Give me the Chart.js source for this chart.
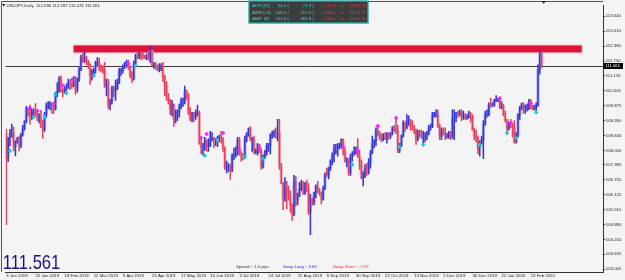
<!DOCTYPE html>
<html><head><meta charset="utf-8">
<script src="https://cdn.jsdelivr.net/npm/chart.js@4.4.1/dist/chart.umd.min.js"></script>
<style>html,body{margin:0;padding:0;background:#f4f4f4;overflow:hidden}canvas{display:block}</style>
</head><body>
<canvas id="c" width="625" height="280"></canvas>
<script>
// ---- data (USDJPY daily, 3 Jan 2019 .. 21 Feb 2020) ----
const dateLabels = ["3 Jan 2019","25 Jan 2019","18 Feb 2019","12 Mar 2019","3 Apr 2019","25 Apr 2019","17 May 2019","10 Jun 2019","3 Jul 2019","24 Jul 2019","15 Aug 2019","6 Sep 2019","30 Sep 2019","22 Oct 2019","13 Nov 2019","5 Dec 2019","30 Dec 2019","22 Jan 2020","13 Feb 2020"];
const priceTicks = [113.640,113.010,112.380,111.750,111.135,110.505,109.875,109.260,108.630,108.000,107.385,106.755,106.125,105.510,104.880,104.250,103.635,103.005];

const opens = [
108.70,107.68,108.50,108.70,108.73,108.15,108.38,108.48,108.18,108.65,
108.92,109.23,109.77,109.67,109.38,109.60,109.64,109.55,109.36,109.38,
109.00,108.87,109.50,109.90,109.95,109.97,109.80,109.72,110.38,110.48,
111.00,110.50,110.47,110.60,110.65,110.85,110.70,110.68,111.05,110.55,
111.00,111.40,111.90,111.75,111.90,111.75,111.60,111.15,111.20,111.40,
111.70,111.70,111.50,111.45,111.40,110.70,110.85,109.90,110.05,110.60,
110.50,110.60,110.85,111.35,111.35,111.50,111.65,111.72,111.48,111.15,
111.00,111.65,112.00,111.97,112.05,112.00,111.92,111.90,111.95,111.85,
112.20,111.60,111.60,111.55,111.40,111.40,111.50,111.10,110.70,110.25,
110.10,109.75,109.95,109.30,109.60,109.60,109.85,110.05,110.05,110.50,
110.35,109.60,109.30,109.50,109.40,109.60,109.60,108.30,108.10,108.15,
108.40,108.15,108.20,108.45,108.50,108.40,108.40,108.55,108.55,108.45,
108.10,107.30,107.30,107.30,107.15,107.80,107.80,107.85,108.45,107.90,
107.80,107.75,108.50,108.70,108.90,108.50,108.50,107.90,107.90,108.25,
108.00,107.30,107.70,107.90,108.20,108.20,108.65,108.70,108.80,108.60,
108.75,107.35,106.60,105.95,106.50,106.30,106.10,105.70,105.30,106.70,
105.90,106.10,106.40,106.60,106.20,106.60,106.40,105.40,105.90,105.80,
106.20,106.50,106.30,106.25,105.95,106.40,106.95,106.90,107.25,107.55,
107.80,108.10,108.10,108.10,108.15,108.45,107.95,107.55,107.55,107.05,
107.75,107.80,107.90,108.00,107.75,107.50,106.85,106.90,107.25,107.10,
107.50,107.90,108.30,108.40,108.85,108.75,108.65,108.45,108.60,108.50,
108.70,108.60,108.70,108.95,108.90,108.80,108.00,108.20,108.60,109.15,
108.95,109.25,109.25,109.05,109.00,108.85,108.45,108.80,108.65,108.60,
108.60,108.60,108.70,108.95,109.00,109.50,109.50,109.50,109.05,108.60,
108.85,108.75,108.60,108.60,108.75,108.55,109.35,109.35,109.55,109.50,
109.60,109.40,109.45,109.35,109.40,109.55,109.45,108.85,108.60,108.55,
108.10,108.35,108.45,109.10,109.50,109.50,109.95,109.90,109.90,110.15,
110.15,110.15,109.85,109.85,109.50,109.30,108.90,109.10,109.05,108.95,
108.35,108.65,109.50,109.80,109.95,109.75,109.75,109.75,110.05,109.85,
109.75,109.85,109.90,111.40,112.096];
const highs = [
108.88,108.55,108.88,109.10,108.98,108.40,108.55,108.60,108.72,109.05,
109.25,109.85,109.80,109.90,109.75,109.75,109.97,109.70,109.55,109.68,
109.25,109.60,110.00,110.05,110.05,110.00,109.90,110.45,110.85,111.10,
111.13,110.60,110.68,110.80,111.00,110.95,110.85,111.10,111.10,111.05,
111.50,112.00,112.08,112.13,111.95,111.80,111.65,111.40,111.45,111.75,
111.90,111.88,111.60,111.55,111.70,111.00,111.00,110.15,110.70,110.70,
110.95,111.00,111.45,111.45,111.60,111.70,111.80,111.80,111.55,111.30,
111.75,112.05,112.10,112.15,112.15,112.15,112.00,112.05,112.15,112.40,
112.25,111.70,111.70,111.60,111.65,111.65,111.70,111.15,110.90,110.40,
110.15,110.10,109.95,109.70,109.70,109.95,110.20,110.20,110.70,110.55,
110.40,109.80,109.60,109.60,109.70,109.90,109.65,108.45,108.30,108.55,
108.45,108.50,108.80,108.75,108.55,108.50,108.60,108.65,108.80,108.55,
108.15,107.55,107.45,107.40,107.85,108.10,108.15,108.55,108.55,107.95,
107.85,108.60,108.75,108.95,109.00,108.55,108.60,108.05,108.30,108.25,
108.05,107.80,108.00,108.30,108.30,108.70,108.80,108.85,108.95,109.30,
109.30,107.45,106.65,106.85,106.70,106.50,106.30,105.75,106.95,106.90,
106.20,106.65,106.75,106.70,106.65,106.75,106.60,106.15,106.00,106.25,
106.55,106.70,106.40,106.25,106.50,107.05,107.25,107.30,107.60,107.90,
108.25,108.25,108.30,108.30,108.48,108.48,108.10,107.70,107.65,107.85,
107.95,108.15,108.15,108.50,108.00,107.60,107.10,107.40,107.45,107.65,
108.00,108.60,108.45,108.95,108.95,108.80,108.70,108.70,108.75,108.75,
108.75,108.75,109.00,109.05,109.30,109.05,108.30,108.65,109.25,109.20,
109.50,109.45,109.30,109.25,109.05,108.90,108.85,108.85,108.85,108.80,
108.75,108.80,109.05,109.10,109.60,109.60,109.70,109.70,109.10,108.95,
108.95,108.95,108.70,108.80,108.80,109.70,109.70,109.60,109.65,109.70,
109.70,109.65,109.55,109.50,109.65,109.60,109.50,108.95,108.85,108.60,
108.40,108.60,109.25,109.65,109.70,110.00,110.20,110.00,110.15,110.30,
110.20,110.20,110.05,109.95,109.65,109.30,109.20,109.30,109.15,109.25,
108.75,109.55,109.85,110.00,110.00,109.90,109.95,110.15,110.15,109.90,
109.90,110.00,111.60,112.20,112.187];
const lows = [
104.87,107.52,108.20,108.55,107.98,107.77,108.30,107.98,108.10,108.60,
108.85,109.15,109.45,109.10,109.30,109.40,109.45,109.25,109.15,108.95,
108.50,108.80,109.40,109.75,109.70,109.55,109.55,109.70,110.25,110.45,
110.45,110.25,110.40,110.50,110.60,110.55,110.60,110.68,110.35,110.45,
110.90,111.35,111.70,111.70,111.60,111.45,110.77,110.95,111.10,111.25,
111.55,111.35,111.30,111.25,110.65,110.30,109.75,109.70,109.95,110.25,
110.10,110.55,110.80,111.15,111.25,111.45,111.50,111.40,111.05,110.85,
110.95,111.60,111.85,111.85,111.80,111.85,111.85,111.80,111.80,111.70,
111.55,111.45,111.40,111.35,111.30,111.35,110.90,110.30,110.10,109.95,
109.50,109.45,109.02,109.15,109.25,109.40,109.75,109.85,109.95,110.15,
109.50,109.25,109.20,109.20,109.30,109.45,108.25,107.85,107.80,108.00,
107.95,107.95,108.15,108.40,108.10,108.20,108.15,108.35,108.30,107.95,
107.20,107.05,107.10,106.78,107.10,107.60,107.70,107.80,107.80,107.55,
107.60,107.65,108.35,108.60,108.40,107.95,107.85,107.85,107.80,107.90,
107.20,107.25,107.65,107.80,107.95,107.85,108.50,108.55,108.50,108.40,
107.20,106.60,105.50,105.85,105.55,105.90,105.40,105.05,105.25,105.65,
105.70,106.05,106.30,106.15,106.15,106.25,105.30,104.45,105.70,105.70,
106.00,106.20,106.10,105.75,105.90,106.35,106.90,106.80,107.15,107.40,
107.50,107.85,107.75,108.05,108.10,107.80,107.50,107.30,106.95,106.95,
107.55,107.80,107.85,107.70,107.20,106.80,106.50,106.85,106.95,107.00,
107.25,107.85,108.10,108.20,108.60,108.45,108.35,108.40,108.45,108.30,
108.45,108.50,108.65,108.80,108.70,107.90,107.90,108.15,108.55,108.80,
108.90,109.05,108.85,108.85,108.70,108.25,108.40,108.55,108.50,108.25,
108.35,108.45,108.65,108.85,108.95,109.40,109.40,108.95,108.45,108.45,
108.65,108.45,108.50,108.50,108.45,108.50,108.45,109.20,109.40,109.45,
109.25,109.30,109.30,109.30,109.35,109.20,108.85,108.45,108.35,107.85,
107.75,108.25,107.65,109.05,109.40,109.45,109.80,109.85,109.85,110.05,
110.05,109.75,109.75,109.45,109.20,108.75,108.85,108.95,108.55,108.30,
108.30,108.55,109.30,109.70,109.55,109.55,109.65,109.70,109.75,109.70,
109.70,109.60,109.85,111.20,111.474];
const closes = [
107.68,108.50,108.70,108.73,108.15,108.38,108.48,108.18,108.65,108.92,
109.23,109.77,109.67,109.38,109.60,109.64,109.55,109.36,109.38,109.00,
108.87,109.50,109.90,109.95,109.97,109.80,109.72,110.38,110.48,111.00,
110.50,110.47,110.60,110.65,110.85,110.70,110.68,111.05,110.55,111.00,
111.40,111.90,111.75,111.90,111.75,111.60,111.15,111.20,111.40,111.70,
111.70,111.50,111.45,111.40,110.70,110.85,109.90,110.05,110.60,110.50,
110.60,110.85,111.35,111.35,111.50,111.65,111.72,111.48,111.15,111.00,
111.65,112.00,111.97,112.05,112.00,111.92,111.90,111.95,111.85,112.20,
111.60,111.60,111.55,111.40,111.40,111.50,111.10,110.70,110.25,110.10,
109.75,109.95,109.30,109.60,109.60,109.85,110.05,110.05,110.50,110.35,
109.60,109.30,109.50,109.40,109.60,109.60,108.30,108.10,108.15,108.40,
108.15,108.20,108.45,108.50,108.40,108.40,108.55,108.55,108.45,108.10,
107.30,107.30,107.30,107.15,107.80,107.80,107.85,108.45,107.90,107.80,
107.75,108.50,108.70,108.90,108.50,108.50,107.90,107.90,108.25,108.00,
107.30,107.70,107.90,108.20,108.20,108.65,108.70,108.80,108.60,108.75,
107.35,106.60,105.95,106.50,106.30,106.10,105.70,105.30,106.70,105.90,
106.10,106.40,106.60,106.20,106.60,106.40,105.40,105.90,105.80,106.20,
106.50,106.30,106.25,105.95,106.40,106.95,106.90,107.25,107.55,107.80,
108.10,108.10,108.10,108.15,108.45,107.95,107.55,107.55,107.05,107.75,
107.80,107.90,108.00,107.75,107.50,106.85,106.90,107.25,107.10,107.50,
107.90,108.30,108.40,108.85,108.75,108.65,108.45,108.60,108.50,108.70,
108.60,108.70,108.95,108.90,108.80,108.00,108.20,108.60,109.15,108.95,
109.25,109.25,109.05,109.00,108.85,108.45,108.80,108.65,108.60,108.60,
108.60,108.70,108.95,109.00,109.50,109.50,109.50,109.05,108.60,108.85,
108.75,108.60,108.60,108.75,108.55,109.35,109.35,109.55,109.50,109.60,
109.40,109.45,109.35,109.40,109.55,109.45,108.85,108.60,108.55,108.10,
108.35,108.45,109.10,109.50,109.50,109.95,109.90,109.90,110.15,110.15,
110.15,109.85,109.85,109.50,109.30,108.90,109.10,109.05,108.95,108.35,
108.65,109.50,109.80,109.95,109.75,109.75,109.75,110.05,109.85,109.75,
109.85,109.90,111.40,112.10,111.561];

const magentaIdx = [13,17,26,31,36,67,107,110,119,128,139,185,193,204,214,271,277,288];
const magentaVal = [109.77,109.65,109.97,110.73,110.97,111.64,108.53,108.69,108.73,108.03,108.10,108.15,107.99,109.02,109.36,110.19,109.15,109.98];
const cyanIdx = [2,15,21,27,33,48,71,109,116,131,141,190,216,229,260,275,280,291];
const cyanVal = [107.98,109.40,109.40,110.35,110.40,111.14,111.56,107.78,108.44,107.74,107.65,107.40,108.15,108.24,108.24,108.73,108.53,109.60];

const zoneIdx = [37, 316];
const zonePrice = [112.12, 112.41];

const rangeRows = [
  ["ADR (21)", "54.0 |", "71.3 |", "+17.3", "=", "132.0 %"],
  ["AWR (13)", "108.0 |", "257.0 |", "+149.0", "=", "237.9 %"],
  ["AMR  (8)", "153.4 |", "391.9 |", "+238.5", "=", "255.5 %"]
];
const spreadInfo = ["Spread :: 1.0 pips", "Swap Long :: 3.65", "Swap Short :: -7.97"];
const symbolTitle = "USDJPY,Daily";

// ---- styles ----
const UP = '#3434d0', DOWN = '#e2405c', UPB = '#b2b6ee', DOWNB = '#f4b4c0';
const FONT = '"Liberation Sans", Arial, sans-serif';
const last = closes.length - 1;

const wick = highs.map((h, i) => ({x: i, y: [lows[i], h]}));
const body = opens.map((o, i) => ({x: i, y: [Math.min(o, closes[i]), Math.max(o, closes[i])]}));
const isUp = i => closes[i] >= opens[i];

function txt(ctx, s, x, y, color, size, align) {
  ctx.font = size + 'px ' + FONT;
  ctx.fillStyle = color; ctx.textAlign = align || 'left'; ctx.textBaseline = 'middle';
  ctx.fillText(s, x, y);
}
function noPad(s) { s.paddingLeft = 0; s.paddingRight = 0; s.paddingTop = 0; s.paddingBottom = 0; }

const overlay = {
  id: 'overlay',
  beforeDraw(chart) {
    const c = chart.ctx; c.save(); c.fillStyle = '#f4f4f4'; c.fillRect(0, 0, chart.width, chart.height); c.restore();
  },
  beforeDatasetsDraw(chart) {
    const {ctx, chartArea: a, scales: {x, y}} = chart;
    ctx.save();
    const x0 = x.getPixelForValue(zoneIdx[0]), x1 = Math.min(x.getPixelForValue(zoneIdx[1]), a.right);
    const y0 = y.getPixelForValue(zonePrice[1]), y1 = y.getPixelForValue(zonePrice[0]);
    ctx.fillStyle = '#f6c3cd'; ctx.fillRect(x0 - 1, y0 - 1, x1 - x0 + 2, y1 - y0 + 2);
    ctx.fillStyle = '#dc143c'; ctx.fillRect(x0, y0, x1 - x0, y1 - y0);
    const py = Math.round(y.getPixelForValue(closes[last])) + 0.5;
    ctx.strokeStyle = '#3a3a3a'; ctx.lineWidth = 1;
    ctx.beginPath(); ctx.moveTo(a.left, py); ctx.lineTo(a.right, py); ctx.stroke();
    ctx.restore();
  },
  afterDraw(chart) {
    const {ctx, chartArea: a, scales: {x, y}} = chart;
    ctx.save();
    ctx.strokeStyle = '#555'; ctx.lineWidth = 1;
    ctx.beginPath(); ctx.moveTo(1.5, a.bottom); ctx.lineTo(1.5, 1.5); ctx.lineTo(a.right, 1.5); ctx.stroke();
    ctx.fillStyle = '#111';
    ctx.beginPath(); ctx.moveTo(2.2, 4); ctx.lineTo(5.2, 4); ctx.lineTo(3.7, 6.5); ctx.closePath(); ctx.fill();
    txt(ctx, symbolTitle + '  ' + opens[last].toFixed(3) + ' ' + highs[last].toFixed(3) + ' ' + lows[last].toFixed(3) + ' ' + closes[last].toFixed(3), 6.5, 5.5, '#222', 4.3);
    const sx = x.getPixelForValue(last) + 2;
    ctx.fillStyle = '#111';
    ctx.beginPath(); ctx.moveTo(sx - 2, 1); ctx.lineTo(sx + 2, 1); ctx.lineTo(sx, 3.8); ctx.closePath(); ctx.fill();
    ctx.fillStyle = '#3b3d3d'; ctx.fillRect(249, 1, 119, 22);
    ctx.strokeStyle = '#23aaa6'; ctx.lineWidth = 1.4; ctx.strokeRect(249, 1, 119, 22);
    const rowsY = [6, 12.4, 18.8];
    rangeRows.forEach((r, k) => {
      const yy = rowsY[k];
      txt(ctx, r[0], 252, yy, '#4fd6d0', 4.3);
      txt(ctx, r[1], 288.5, yy, '#4fd6d0', 4.3, 'right');
      txt(ctx, r[2], 313.5, yy, '#4fd6d0', 4.3, 'right');
      txt(ctx, r[3], 335.5, yy, '#ff3a3a', 4.3, 'right');
      txt(ctx, r[4], 342, yy, '#ff3a3a', 4.3, 'center');
      txt(ctx, r[5], 365.5, yy, '#ff3a3a', 4.3, 'right');
    });
    ctx.save();
    ctx.translate(2.8, 263); ctx.scale(0.79, 1);
    txt(ctx, closes[last].toFixed(3), 0, 0, '#17177c', 21);
    ctx.restore();
    txt(ctx, spreadInfo[0], 236, 266.6, '#333', 4.2);
    txt(ctx, spreadInfo[1], 283, 266.6, '#2323e6', 4.2);
    txt(ctx, spreadInfo[2], 333, 266.6, '#ff2a2a', 4.2);
    const py = Math.round(y.getPixelForValue(closes[last]));
    ctx.fillStyle = '#000'; ctx.fillRect(a.right + 0.5, py - 3, 19.5, 6);
    txt(ctx, closes[last].toFixed(3), a.right + 2.5, py, '#fff', 4.2);
    ctx.restore();
  }
};

new Chart(document.getElementById('c'), {
  type: 'bar',
  data: {
    datasets: [
      {type: 'line', data: magentaIdx.map((v, i) => ({x: v, y: magentaVal[i]})), showLine: false,
       pointStyle: 'cross', pointRadius: 2, pointBorderWidth: 1.6, borderColor: '#ff1aff', backgroundColor: '#ff1aff', order: 0},
      {type: 'line', data: cyanIdx.map((v, i) => ({x: v, y: cyanVal[i]})), showLine: false,
       pointStyle: 'cross', pointRadius: 2, pointBorderWidth: 1.6, borderColor: '#19c9cf', backgroundColor: '#19c9cf', order: 0},
      {data: wick, barThickness: 0.9, grouped: false, order: 1,
       backgroundColor: wick.map((_, i) => isUp(i) ? UP : DOWN)},
      {data: body, barThickness: 2.6, grouped: false, order: 2,
       backgroundColor: body.map((_, i) => isUp(i) ? UPB : DOWNB)}
    ]
  },
  options: {
    responsive: false, animation: false, events: [], devicePixelRatio: 1,
    layout: {padding: {top: 2, left: 2, right: 0, bottom: 0}},
    plugins: {legend: {display: false}, tooltip: {enabled: false}},
    scales: {
      x: {
        type: 'linear', position: 'bottom', min: -0.4, max: 327.7, offset: false,
        afterBuildTicks: s => { s.ticks = dateLabels.map((_, k) => ({value: k * 16})); },
        afterFit: s => { s.height = 8; noPad(s); },
        ticks: {callback: v => dateLabels[Math.round(v / 16)], align: 'start', maxRotation: 0, minRotation: 0,
                autoSkip: false, padding: 0, color: '#222', font: {size: 4.3, family: FONT, lineHeight: 1}},
        grid: {drawOnChartArea: false, tickLength: 1.2, color: '#444', offset: false},
        border: {color: '#333', width: 1}
      },
      y: {
        type: 'linear', position: 'right', min: 102.884, max: 114.087,
        afterBuildTicks: s => { s.ticks = priceTicks.map(v => ({value: v})); },
        afterFit: s => { s.width = 22; noPad(s); },
        ticks: {callback: v => v.toFixed(3), padding: 0.6, color: '#222', font: {size: 4.3, family: FONT, lineHeight: 1}},
        grid: {drawOnChartArea: false, tickLength: 2.2, color: '#444'},
        border: {color: '#333', width: 1}
      }
    }
  },
  plugins: [overlay]
});
</script>
</body></html>
